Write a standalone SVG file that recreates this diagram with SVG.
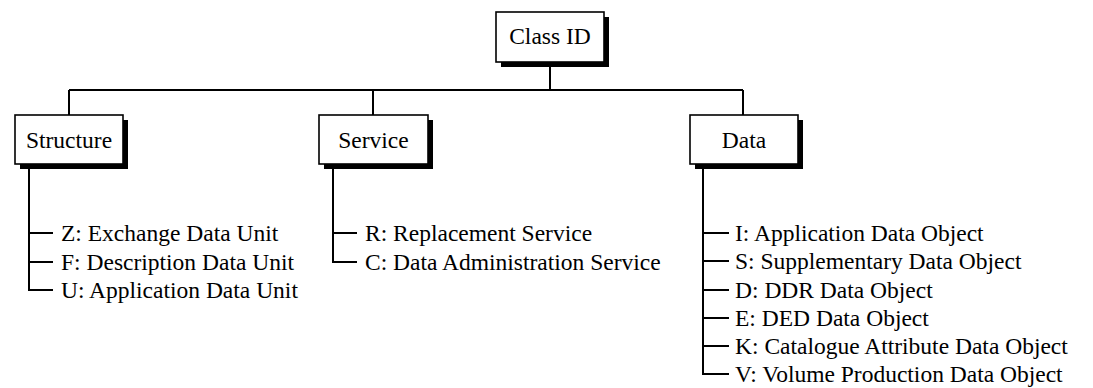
<svg xmlns="http://www.w3.org/2000/svg" width="1093" height="388" viewBox="0 0 1093 388">
<style>
.box{fill:#fff;stroke:#000;stroke-width:1.6}
.sh{fill:#000}
.lbl{font-family:"Liberation Serif","Times New Roman",serif;font-size:23.5px;fill:#000}
.c{text-anchor:middle}
.ln{stroke:#000;stroke-width:2;fill:none}
</style>
<rect width="1093" height="388" fill="#fff"/>
<g id="connectors">
<path class="ln" d="M550 62V90M69 90H743M69 90V115M373 90V115M743 90V115"/>
<path class="ln" d="M29 164V290H53M29 233H53M29 262H53"/>
<path class="ln" d="M333 164V262H357M333 233H357"/>
<path class="ln" d="M703 164V374H729M703 233H729M703 261H729M703 290H729M703 318H729M703 346H729"/>
</g>
<g id="classid">
<rect class="sh" x="501" y="17" width="108" height="50"/>
<rect class="box" x="496" y="12" width="108" height="50"/>
<text class="lbl c" x="550" y="44">Class ID</text>
</g>
<g id="structure">
<rect class="sh" x="20" y="120" width="108" height="49"/>
<rect class="box" x="15" y="115" width="108" height="49"/>
<text class="lbl c" x="69" y="147.5">Structure</text>
</g>
<g id="service">
<rect class="sh" x="324" y="120" width="109" height="49"/>
<rect class="box" x="319" y="115" width="109" height="49"/>
<text class="lbl c" x="373.5" y="147.5">Service</text>
</g>
<g id="data">
<rect class="sh" x="695" y="120" width="108" height="49"/>
<rect class="box" x="690" y="115" width="108" height="49"/>
<text class="lbl c" x="744" y="147.5">Data</text>
</g>
<g id="structure-items">
<text class="lbl" x="61" y="241">Z: Exchange Data Unit</text>
<text class="lbl" x="61" y="270">F: Description Data Unit</text>
<text class="lbl" x="61" y="298">U: Application Data Unit</text>
</g>
<g id="service-items">
<text class="lbl" x="365" y="241">R: Replacement Service</text>
<text class="lbl" x="365" y="270">C: Data Administration Service</text>
</g>
<g id="data-items">
<text class="lbl" x="735" y="241">I: Application Data Object</text>
<text class="lbl" x="735" y="269">S: Supplementary Data Object</text>
<text class="lbl" x="735" y="298">D: DDR Data Object</text>
<text class="lbl" x="735" y="326">E: DED Data Object</text>
<text class="lbl" x="735" y="354">K: Catalogue Attribute Data Object</text>
<text class="lbl" x="735" y="382">V: Volume Production Data Object</text>
</g>
</svg>
